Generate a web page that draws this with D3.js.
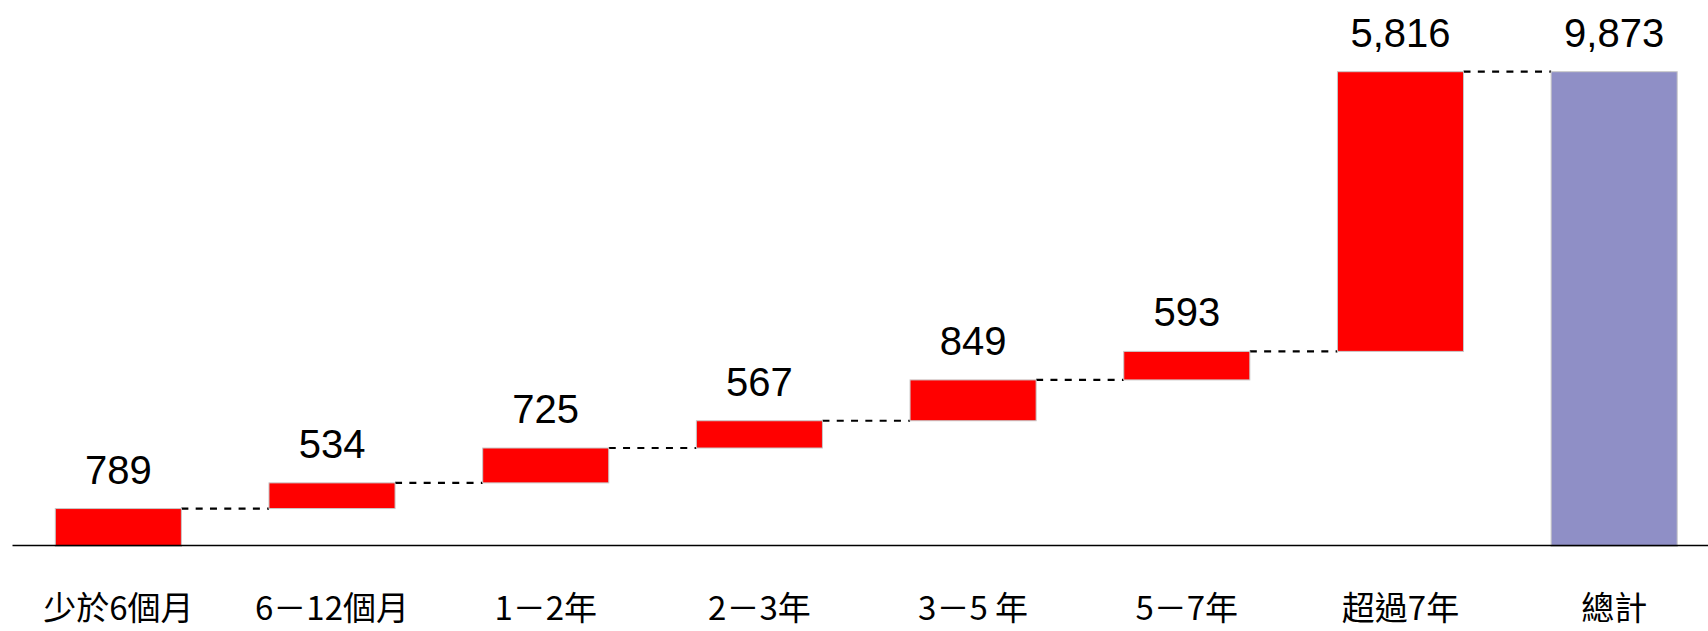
<!DOCTYPE html>
<html>
<head>
<meta charset="utf-8">
<script src="https://cdn.jsdelivr.net/npm/d3@7"></script>
<style>
  html, body { margin: 0; padding: 0; background: #fff; }
  svg { display: block; }
</style>
</head>
<body>
<svg id="chart" width="1708" height="631"></svg>
<script>
const categories = ["少於6個月", "6－12個月", "1－2年", "2－3年", "3－5 年", "5－7年", "超過7年", "總計"];
const values = [789, 534, 725, 567, 849, 593, 5816];
const totalValue = 9873;

const W = 1708, H = 631;
const svg = d3.select("#chart");

// build waterfall rows
let cum = 0;
const rows = categories.map((c, i) => {
  if (i < values.length) {
    const r = { cat: c, start: cum, end: cum + values[i], value: values[i], total: false };
    cum += values[i];
    return r;
  }
  return { cat: c, start: 0, end: totalValue, value: totalValue, total: true };
});

const x = d3.scaleBand()
  .domain(categories)
  .range([12, 1720.5])
  .paddingInner(0.41)
  .paddingOuter(0.2026);

const y = d3.scaleLinear()
  .domain([0, totalValue])
  .range([546.5, 71.7]);

// connectors
const conn = svg.append("g");
rows.slice(0, -1).forEach((r, i) => {
  const nxt = rows[i + 1];
  conn.append("line")
    .attr("x1", x(r.cat) + x.bandwidth())
    .attr("x2", x(nxt.cat))
    .attr("y1", y(r.end))
    .attr("y2", y(r.end))
    .attr("stroke", "#000")
    .attr("stroke-width", 2.2)
    .attr("stroke-dasharray", "7,7.3");
});

// bars
svg.append("g").selectAll("rect")
  .data(rows)
  .join("rect")
  .attr("x", d => x(d.cat))
  .attr("width", x.bandwidth())
  .attr("y", d => y(d.end))
  .attr("height", d => y(d.start) - y(d.end))
  .attr("fill", d => d.total ? "#8f8fc6" : "#ff0000")
  .attr("stroke", "#c8c8c8")
  .attr("stroke-width", 1);

// value labels
svg.append("g").selectAll("text")
  .data(rows)
  .join("text")
  .attr("x", d => x(d.cat) + x.bandwidth() / 2)
  .attr("y", d => y(d.end) - 25)
  .attr("text-anchor", "middle")
  .attr("font-family", "'Liberation Sans', Arial, sans-serif")
  .attr("font-size", 40)
  .attr("fill", "#000")
  .text(d => d3.format(",")(d.value));

// axis
const axis = svg.append("g")
  .attr("transform", `translate(0, ${545.5})`)
  .call(d3.axisBottom(x).tickSize(0).tickPadding(0));
axis.select(".domain").remove();
axis.append("line")
  .attr("x1", 12.5).attr("x2", W)
  .attr("y1", 0).attr("y2", 0)
  .attr("stroke", "#000").attr("stroke-width", 1.6);
axis.selectAll(".tick text")
  .attr("dy", null)
  .attr("y", 74)
  .attr("font-family", "'Noto Sans CJK TC', 'Noto Sans CJK SC', sans-serif")
  .attr("font-size", 33)
  .attr("fill", "#000");
</script>
</body>
</html>
